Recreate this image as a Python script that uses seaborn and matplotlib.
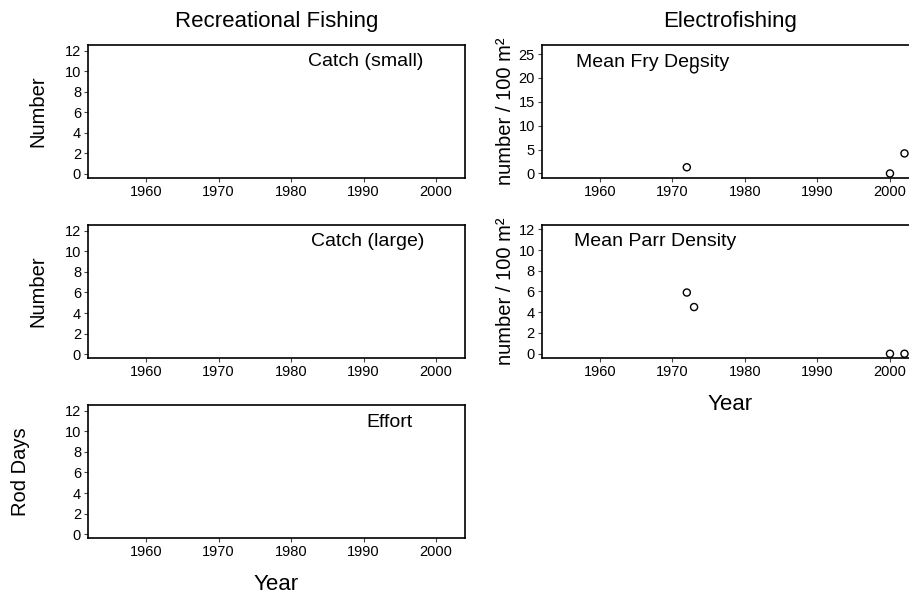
import matplotlib
matplotlib.use("Agg")
import matplotlib.pyplot as plt
import seaborn as sns
import pandas as pd

# ---- data ----
fry_years = [1972, 1973, 2000, 2002]
fry_density = [1.3, 21.8, 0.0, 4.2]
parr_years = [1972, 1973, 2000, 2002]
parr_density = [5.9, 4.5, 0.0, 0.0]
catch_small_years, catch_small = [], []
catch_large_years, catch_large = [], []
effort_years, effort = [], []

x_ticks = [1960, 1970, 1980, 1990, 2000]
left_yticks = [0, 2, 4, 6, 8, 10, 12]
fry_yticks = [0, 5, 10, 15, 20, 25]

sns.set_theme(style="white")
plt.rcParams['font.family'] = ['Liberation Sans', 'DejaVu Sans']
plt.rcParams['text.color'] = 'black'
plt.rcParams['axes.labelcolor'] = 'black'

W, H = 909, 597
fig = plt.figure(figsize=(W / 100, H / 100), dpi=100)


def px_axes(left, top, right, bottom):
    return fig.add_axes([left / W, 1 - bottom / H, (right - left) / W, (bottom - top) / H])


def style(ax, yticks, ylim):
    ax.set_xlim(1952, 2004)
    ax.set_ylim(*ylim)
    ax.set_xticks(x_ticks)
    ax.set_yticks(yticks)
    for s in ax.spines.values():
        s.set_visible(True)
        s.set_color("black")
        s.set_linewidth(1.2)
    ax.tick_params(axis="both", which="both", direction="out", length=3, width=0.8,
                   color="#444444", labelsize=10.5, pad=2, labelcolor="black",
                   left=True, bottom=True)
    ax.set_xlabel("")
    ax.set_ylabel("")


def points(ax, xs, ys):
    if len(xs):
        df = pd.DataFrame({"Year": xs, "Value": ys})
        sns.scatterplot(data=df, x="Year", y="Value", ax=ax, marker="o", s=26,
                        facecolor="none", edgecolor="black", linewidth=1.0, clip_on=False)


lw = 88
lr = 465
rl = 541.7
rr = 919
rows = [(45, 178), (225, 358.3), (405, 538.3)]

ax1 = px_axes(lw, rows[0][0], lr, rows[0][1])
ax2 = px_axes(lw, rows[1][0], lr, rows[1][1])
ax3 = px_axes(lw, rows[2][0], lr, rows[2][1])
ax4 = px_axes(rl, rows[0][0], rr, rows[0][1])
ax5 = px_axes(rl, rows[1][0], rr, rows[1][1])

points(ax1, catch_small_years, catch_small)
points(ax2, catch_large_years, catch_large)
points(ax3, effort_years, effort)
points(ax4, fry_years, fry_density)
points(ax5, parr_years, parr_density)

for ax in (ax1, ax2, ax3):
    style(ax, left_yticks, (-0.4, 12.55))
style(ax4, fry_yticks, (-0.95, 26.9))
style(ax5, left_yticks, (-0.44, 12.41))

ax1.text(0.737, 0.874, "Catch (small)", transform=ax1.transAxes, ha="center", va="center", fontsize=14)
ax2.text(0.743, 0.874, "Catch (large)", transform=ax2.transAxes, ha="center", va="center", fontsize=14)
ax3.text(0.801, 0.87, "Effort", transform=ax3.transAxes, ha="center", va="center", fontsize=14)
ax4.text(0.09, 0.87, "Mean Fry Density", transform=ax4.transAxes, ha="left", va="center", fontsize=14)
ax5.text(0.086, 0.875, "Mean Parr Density", transform=ax5.transAxes, ha="left", va="center", fontsize=14)

for ax, lab, xc in ((ax1, "Number", -0.109), (ax2, "Number", -0.109), (ax3, "Rod Days", -0.154)):
    ax.set_ylabel(lab, fontsize=14.5)
    ax.yaxis.set_label_coords(xc, 0.5)
for ax in (ax4, ax5):
    ax.set_ylabel("number / 100 m²", fontsize=14.5)
    ax.yaxis.set_label_coords(-0.071, 0.5)

for ax in (ax3, ax5):
    ax.set_xlabel("Year", fontsize=16)
    ax.xaxis.set_label_coords(0.5, -0.345)
    ax.xaxis.label.set_va("center")

fig.text(276.5 / W, 1 - 22 / H, "Recreational Fishing", ha="center", va="center", fontsize=16)
fig.text(730 / W, 1 - 22 / H, "Electrofishing", ha="center", va="center", fontsize=16)

fig.savefig("out.png", dpi=100, facecolor="white")
